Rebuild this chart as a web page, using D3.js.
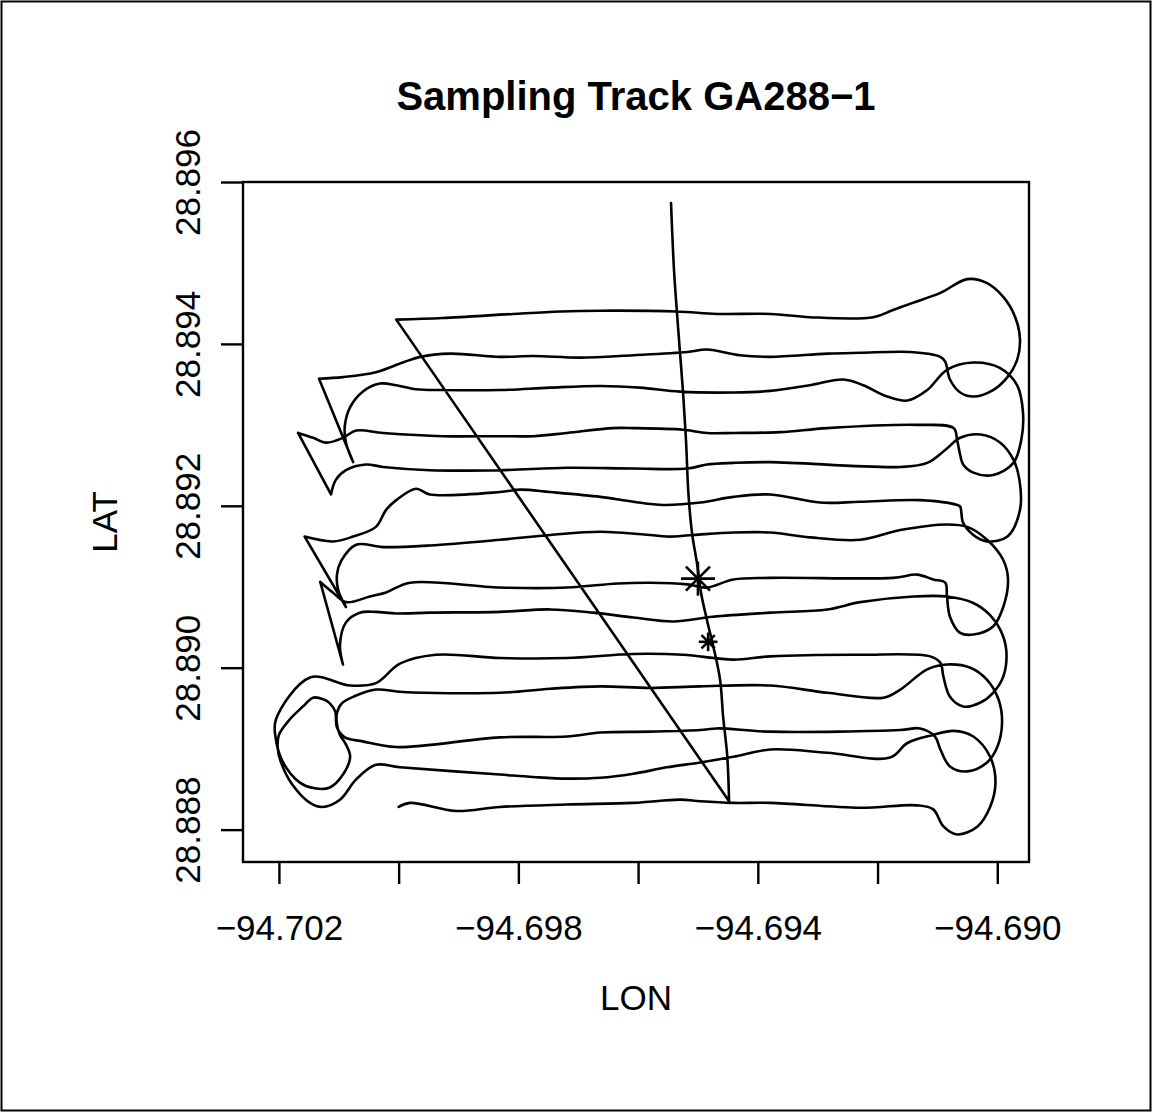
<!DOCTYPE html>
<html lang="en">
<head>
<meta charset="UTF-8">
<title>Sampling Track GA288-1</title>
<style>
    body { margin: 0; background: #fff; }
    svg { display: block; font-family: "Liberation Sans", Arial, Helvetica, sans-serif; }
    .track { fill: none; stroke: #000; stroke-width: 2.6px; stroke-linejoin: round; stroke-linecap: round; }
    .station line { stroke: #000; stroke-width: 2.6px; }
    .axis path, .axis line { stroke: #000; stroke-width: 2.4px; }
    .axis text { font-size: 35px; fill: #000; }
    .box { fill: none; stroke: #000; stroke-width: 2.4px; }
    .frame { fill: none; stroke: #000; stroke-width: 2px; }
    .title { font-size: 40px; font-weight: bold; }
    .label { font-size: 35px; }
</style>
<script src="https://d3js.org/d3.v7.min.js"></script>
</head>
<body>
<script>
    // axis limits and ticks
    const lonLimits = [-94.7026, -94.68947];
    const latLimits = [28.8876, 28.8960];
    const lonTicks = [-94.702, -94.700, -94.698, -94.696, -94.694, -94.692, -94.690];
    const lonTickLabels = ["\u221294.702", "", "\u221294.698", "", "\u221294.694", "", "\u221294.690"];
    const latTicks = [28.888, 28.890, 28.892, 28.894, 28.896];
    const latTickLabels = ["28.888", "28.890", "28.892", "28.894", "28.896"];

    // sampling stations (asterisks)
    const stationLon = [-94.69500, -94.69483];
    const stationLat = [28.89110, 28.89032];
    const stationCex = [2.0, 1.1];

    // ship track, [lon, lat]
    const track = [
        // transit from the north
        [-94.69545, 28.89574], [-94.69540, 28.89491], [-94.69535, 28.89438], [-94.69530, 28.89389],
        [-94.69525, 28.89341], [-94.69520, 28.89281], [-94.69516, 28.89216], [-94.69510, 28.89167],
        [-94.69501, 28.89126], [-94.69495, 28.89093], [-94.69485, 28.89059], [-94.69473, 28.89022],
        [-94.69463, 28.88985], [-94.69458, 28.88940], [-94.69451, 28.88890], [-94.69448, 28.88835],
        // line 1
        [-94.70004, 28.89430], [-94.69926, 28.89432], [-94.69809, 28.89437], [-94.69730, 28.89440],
        [-94.69663, 28.89441], [-94.69535, 28.89440], [-94.69468, 28.89437], [-94.69379, 28.89437],
        [-94.69313, 28.89433], [-94.69207, 28.89433], [-94.69174, 28.89442], [-94.69140, 28.89451],
        [-94.69095, 28.89463], [-94.69050, 28.89480], [-94.69017, 28.89475], [-94.68990, 28.89458],
        [-94.68970, 28.89433], [-94.68962, 28.89405], [-94.68967, 28.89380], [-94.68983, 28.89359],
        [-94.69007, 28.89343], [-94.69040, 28.89335], [-94.69062, 28.89340], [-94.69079, 28.89356],
        [-94.69087, 28.89378], [-94.69095, 28.89384],
        // line 2
        [-94.69145, 28.89390], [-94.69229, 28.89389], [-94.69284, 28.89388], [-94.69379, 28.89384],
        [-94.69430, 28.89386], [-94.69485, 28.89393], [-94.69518, 28.89390], [-94.69608, 28.89386],
        [-94.69697, 28.89383], [-94.69775, 28.89385], [-94.69831, 28.89384], [-94.69914, 28.89388],
        [-94.69964, 28.89384], [-94.69993, 28.89377], [-94.70038, 28.89365], [-94.70093, 28.89359],
        [-94.70133, 28.89357], [-94.70076, 28.89254],
        // line 3
        [-94.70088, 28.89278], [-94.70090, 28.89298], [-94.70081, 28.89322], [-94.70060, 28.89341],
        [-94.70031, 28.89351], [-94.70004, 28.89349], [-94.69971, 28.89344], [-94.69926, 28.89343],
        [-94.69831, 28.89343], [-94.69747, 28.89346], [-94.69663, 28.89348], [-94.69597, 28.89346],
        [-94.69530, 28.89341], [-94.69441, 28.89340], [-94.69379, 28.89342], [-94.69313, 28.89349],
        [-94.69257, 28.89356], [-94.69224, 28.89349], [-94.69184, 28.89335], [-94.69150, 28.89330],
        [-94.69117, 28.89343], [-94.69084, 28.89368], [-94.69040, 28.89377], [-94.68995, 28.89370],
        [-94.68967, 28.89349], [-94.68957, 28.89315], [-94.68960, 28.89281], [-94.68973, 28.89253],
        [-94.69007, 28.89238], [-94.69040, 28.89241], [-94.69057, 28.89251], [-94.69062, 28.89263],
        [-94.69067, 28.89281], [-94.69073, 28.89296],
        // line 4
        [-94.69134, 28.89300], [-94.69284, 28.89296], [-94.69363, 28.89291], [-94.69441, 28.89290],
        [-94.69485, 28.89290], [-94.69525, 28.89294], [-94.69608, 28.89296], [-94.69642, 28.89296],
        [-94.69719, 28.89290], [-94.69775, 28.89286], [-94.69831, 28.89286], [-94.69926, 28.89286],
        [-94.70026, 28.89290], [-94.70071, 28.89293], [-94.70093, 28.89284], [-94.70121, 28.89278],
        [-94.70143, 28.89284], [-94.70168, 28.89290], [-94.70113, 28.89214],
        // line 5
        [-94.70105, 28.89232], [-94.70088, 28.89244], [-94.70055, 28.89251], [-94.70026, 28.89248],
        [-94.69948, 28.89244], [-94.69831, 28.89244], [-94.69719, 28.89247], [-94.69608, 28.89246],
        [-94.69518, 28.89246], [-94.69485, 28.89251], [-94.69441, 28.89253], [-94.69379, 28.89254],
        [-94.69162, 28.89248], [-94.69117, 28.89253], [-94.69087, 28.89269], [-94.69062, 28.89284],
        [-94.69028, 28.89288], [-94.68995, 28.89278], [-94.68973, 28.89257], [-94.68963, 28.89232],
        [-94.68962, 28.89195], [-94.68983, 28.89162], [-94.69017, 28.89156], [-94.69040, 28.89164],
        [-94.69057, 28.89179], [-94.69062, 28.89199], [-94.69067, 28.89201],
        // line 6
        [-94.69129, 28.89207], [-94.69229, 28.89205], [-94.69296, 28.89204], [-94.69379, 28.89214],
        [-94.69441, 28.89211], [-94.69496, 28.89204], [-94.69558, 28.89201], [-94.69608, 28.89205],
        [-94.69663, 28.89211], [-94.69747, 28.89217], [-94.69797, 28.89220], [-94.69831, 28.89217],
        [-94.69948, 28.89214], [-94.69971, 28.89221], [-94.70004, 28.89207], [-94.70021, 28.89195],
        [-94.70038, 28.89174], [-94.70076, 28.89162], [-94.70110, 28.89156], [-94.70157, 28.89162],
        [-94.70088, 28.89075],
        // line 7
        [-94.70101, 28.89096], [-94.70103, 28.89115], [-94.70096, 28.89132], [-94.70071, 28.89152],
        [-94.70026, 28.89149], [-94.69948, 28.89151], [-94.69831, 28.89158], [-94.69747, 28.89164],
        [-94.69663, 28.89168], [-94.69580, 28.89164], [-94.69552, 28.89162], [-94.69508, 28.89164],
        [-94.69441, 28.89167], [-94.69379, 28.89167], [-94.69313, 28.89161], [-94.69229, 28.89158],
        [-94.69162, 28.89170], [-94.69084, 28.89177], [-94.69050, 28.89174], [-94.69017, 28.89158],
        [-94.68990, 28.89133], [-94.68982, 28.89109], [-94.68990, 28.89075], [-94.69007, 28.89051],
        [-94.69040, 28.89041], [-94.69062, 28.89043], [-94.69079, 28.89063], [-94.69084, 28.89088],
        [-94.69087, 28.89105], [-94.69107, 28.89109],
        // line 8
        [-94.69134, 28.89115], [-94.69174, 28.89111], [-94.69379, 28.89111], [-94.69441, 28.89109],
        [-94.69485, 28.89099], [-94.69518, 28.89103], [-94.69580, 28.89105], [-94.69635, 28.89104],
        [-94.69719, 28.89099], [-94.69831, 28.89099], [-94.69981, 28.89105], [-94.70021, 28.89093],
        [-94.70048, 28.89088], [-94.70088, 28.89081], [-94.70110, 28.89093], [-94.70131, 28.89106],
        [-94.70093, 28.89004],
        // line 9
        [-94.70098, 28.89028], [-94.70088, 28.89056], [-94.70065, 28.89068], [-94.70038, 28.89069],
        [-94.70004, 28.89067], [-94.69948, 28.89068], [-94.69831, 28.89069], [-94.69747, 28.89072],
        [-94.69675, 28.89068], [-94.69608, 28.89062], [-94.69541, 28.89057], [-94.69475, 28.89063],
        [-94.69379, 28.89068], [-94.69284, 28.89072], [-94.69229, 28.89081], [-94.69140, 28.89088],
        [-94.69084, 28.89088], [-94.69040, 28.89080], [-94.69012, 28.89065], [-94.68995, 28.89047],
        [-94.68985, 28.89022], [-94.68990, 28.88989], [-94.69007, 28.88969], [-94.69028, 28.88957],
        [-94.69057, 28.88952], [-94.69079, 28.88964], [-94.69090, 28.88989], [-94.69095, 28.89006],
        [-94.69112, 28.89014],
        // line 10
        [-94.69229, 28.89016], [-94.69379, 28.89014], [-94.69441, 28.89010], [-94.69525, 28.89016],
        [-94.69608, 28.89017], [-94.69719, 28.89012], [-94.69831, 28.89012], [-94.69938, 28.89016],
        [-94.69998, 28.89005], [-94.70038, 28.88981], [-94.70081, 28.88978], [-94.70148, 28.88988],
        [-94.70205, 28.88936], [-94.70205, 28.88911], [-94.70193, 28.88883], [-94.70165, 28.88858],
        [-94.70140, 28.88851], [-94.70115, 28.88852], [-94.70093, 28.88868], [-94.70081, 28.88890],
        [-94.70088, 28.88905], [-94.70098, 28.88917], [-94.70103, 28.88930], [-94.70103, 28.88944],
        [-94.70095, 28.88956], [-94.70073, 28.88965], [-94.70038, 28.88973],
        // line 11
        [-94.69993, 28.88970], [-94.69831, 28.88969], [-94.69747, 28.88974], [-94.69663, 28.88977],
        [-94.69580, 28.88975], [-94.69496, 28.88977], [-94.69379, 28.88978], [-94.69284, 28.88969],
        [-94.69190, 28.88963], [-94.69162, 28.88973], [-94.69117, 28.88998], [-94.69084, 28.89004],
        [-94.69045, 28.89000], [-94.69017, 28.88985], [-94.68998, 28.88961], [-94.68992, 28.88932],
        [-94.69000, 28.88902], [-94.69017, 28.88883], [-94.69050, 28.88872], [-94.69079, 28.88878],
        [-94.69095, 28.88899], [-94.69104, 28.88915], [-94.69129, 28.88925], [-94.69162, 28.88923],
        // line 12
        [-94.69379, 28.88921], [-94.69468, 28.88925], [-94.69496, 28.88923], [-94.69580, 28.88921],
        [-94.69663, 28.88920], [-94.69719, 28.88915], [-94.69831, 28.88914], [-94.70004, 28.88902],
        [-94.70060, 28.88909], [-94.70090, 28.88914], [-94.70103, 28.88926], [-94.70106, 28.88946],
        [-94.70115, 28.88956], [-94.70126, 28.88961], [-94.70143, 28.88963], [-94.70160, 28.88952],
        [-94.70182, 28.88936], [-94.70200, 28.88917], [-94.70202, 28.88901], [-94.70197, 28.88884],
        [-94.70178, 28.88856], [-94.70148, 28.88833], [-94.70128, 28.88828], [-94.70098, 28.88837],
        [-94.70071, 28.88862], [-94.70038, 28.88880], [-94.69998, 28.88877],
        // line 13
        [-94.69831, 28.88868], [-94.69775, 28.88865], [-94.69719, 28.88863], [-94.69663, 28.88864],
        [-94.69608, 28.88869], [-94.69552, 28.88877], [-94.69496, 28.88883], [-94.69441, 28.88890],
        [-94.69379, 28.88899], [-94.69284, 28.88895], [-94.69179, 28.88889], [-94.69150, 28.88907],
        [-94.69107, 28.88917], [-94.69073, 28.88922], [-94.69040, 28.88915], [-94.69012, 28.88890],
        [-94.69003, 28.88858], [-94.69012, 28.88828], [-94.69033, 28.88804], [-94.69067, 28.88794],
        [-94.69090, 28.88804], [-94.69107, 28.88825], [-94.69134, 28.88830],
        // line 14
        [-94.69229, 28.88827], [-94.69379, 28.88833], [-94.69441, 28.88833], [-94.69496, 28.88835],
        [-94.69530, 28.88837], [-94.69608, 28.88833], [-94.69719, 28.88831], [-94.69831, 28.88828],
        [-94.69904, 28.88823], [-94.69981, 28.88833], [-94.70000, 28.88828]
    ];

    const width = 1153, height = 1113;
    const plot = {left: 243, right: 1029, top: 182, bottom: 862};

    const svg = d3.select("body").append("svg")
        .attr("width", width)
        .attr("height", height);

    svg.append("rect")
        .attr("class", "frame")
        .attr("x", 1.5).attr("y", 1.5)
        .attr("width", width - 4).attr("height", height - 4);

    const x = d3.scaleLinear().domain(lonLimits).range([plot.left, plot.right]);
    const y = d3.scaleLinear().domain(latLimits).range([plot.bottom, plot.top]);

    // split the track at sharp turns so the smoothing keeps the corners
    const px = track.map(d => [x(d[0]), y(d[1])]);
    const pieces = [];
    let start = 0;
    for (let i = 1; i < px.length - 1; i++) {
        const ax = px[i][0] - px[i - 1][0], ay = px[i][1] - px[i - 1][1];
        const bx = px[i + 1][0] - px[i][0], by = px[i + 1][1] - px[i][1];
        const cos = (ax * bx + ay * by) / (Math.hypot(ax, ay) * Math.hypot(bx, by));
        if (cos < -0.2) {
            pieces.push(track.slice(start, i + 1));
            start = i;
        }
    }
    pieces.push(track.slice(start));

    const line = d3.line()
        .x(d => x(d[0]))
        .y(d => y(d[1]))
        .curve(d3.curveCatmullRom.alpha(0.5));

    svg.append("path")
        .attr("class", "track")
        .attr("d", pieces.map(p => line(p)).join(""));

    // asterisks (pch 8)
    const stations = svg.append("g").attr("class", "station");
    stationLon.forEach((lon, i) => {
        const cx = x(lon), cy = y(stationLat[i]), r = 8.5 * stationCex[i];
        const g = stations.append("g").attr("transform", `translate(${cx},${cy})`);
        [0, 45, 90, 135].forEach(a => {
            const t = a * Math.PI / 180;
            g.append("line")
                .attr("x1", -r * Math.cos(t)).attr("y1", -r * Math.sin(t))
                .attr("x2", r * Math.cos(t)).attr("y2", r * Math.sin(t));
        });
    });

    // box
    svg.append("rect")
        .attr("class", "box")
        .attr("x", plot.left).attr("y", plot.top)
        .attr("width", plot.right - plot.left)
        .attr("height", plot.bottom - plot.top);

    // x axis
    svg.append("g")
        .attr("class", "axis")
        .attr("transform", `translate(0, ${plot.bottom})`)
        .call(d3.axisBottom(x)
            .tickValues(lonTicks)
            .tickFormat((d, i) => lonTickLabels[i])
            .tickSize(22)
            .tickSizeOuter(0)
            .tickPadding(31))
        .call(g => g.select(".domain").remove());

    // y axis, labels parallel to the axis
    svg.append("g")
        .attr("class", "axis")
        .attr("transform", `translate(${plot.left}, 0)`)
        .call(d3.axisLeft(y)
            .tickValues(latTicks)
            .tickFormat((d, i) => latTickLabels[i])
            .tickSize(22)
            .tickSizeOuter(0))
        .call(g => g.select(".domain").remove())
        .call(g => g.selectAll(".tick text")
            .attr("transform", "rotate(-90)")
            .attr("x", 0)
            .attr("y", -43)
            .attr("dy", 0)
            .attr("text-anchor", "middle"));

    svg.append("text")
        .attr("class", "title")
        .attr("x", (plot.left + plot.right) / 2)
        .attr("y", 110)
        .attr("text-anchor", "middle")
        .text("Sampling Track GA288\u22121");

    svg.append("text")
        .attr("class", "label")
        .attr("x", (plot.left + plot.right) / 2)
        .attr("y", 1010)
        .attr("text-anchor", "middle")
        .text("LON");

    svg.append("text")
        .attr("class", "label")
        .attr("transform", `translate(117, ${(plot.top + plot.bottom) / 2}) rotate(-90)`)
        .attr("text-anchor", "middle")
        .text("LAT");
</script>
</body>
</html>
